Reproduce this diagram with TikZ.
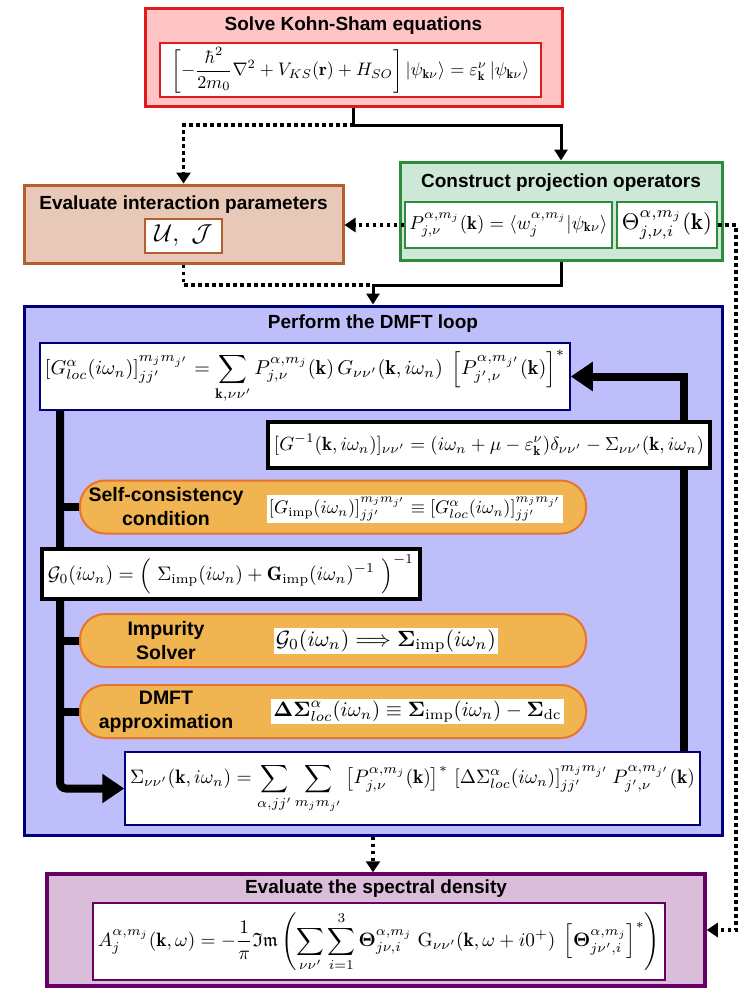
\documentclass[tikz,border=0pt]{standalone}
\usepackage{amsmath,amssymb}
\usepackage{fontspec}
\setsansfont{Liberation Sans}
\usetikzlibrary{arrows.meta,positioning,calc}
\pgfdeclarelayer{back}
\pgfdeclarelayer{lines}
\pgfsetlayers{back,lines,main}

\definecolor{ksred}{HTML}{E31A1C}
\definecolor{ksfill}{HTML}{FFC4C4}
\definecolor{prgreen}{HTML}{2E8B3E}
\definecolor{prfill}{HTML}{CDE8D6}
\definecolor{ipbrown}{HTML}{B4602E}
\definecolor{ipfill}{HTML}{E8C8B6}
\definecolor{lpnavy}{HTML}{00007A}
\definecolor{lpfill}{HTML}{BEBEFA}
\definecolor{plfill}{HTML}{F0B550}
\definecolor{pldraw}{HTML}{E8742C}
\definecolor{spviolet}{HTML}{660066}
\definecolor{spfill}{HTML}{D9BDD9}

\newcommand{\eqw}[2]{\resizebox{#1}{!}{$\displaystyle #2$}}

\begin{document}
\begin{tikzpicture}[x=1pt,y=-1pt,
				box/.style={draw,line width=3pt,inner sep=0pt},
				ttl/.style={font=\fontsize{19}{21}\selectfont\sffamily\bfseries,inner sep=1pt},
				eq/.style={draw,fill=white,line width=1.5pt,inner sep=0pt},
				wbox/.style={fill=white,inner sep=2pt},
				pill/.style={draw=pldraw,fill=plfill,line width=2pt,rounded corners=25pt,minimum width=506pt,minimum height=53pt},
				ptx/.style={font=\fontsize{19.5}{24}\selectfont\sffamily\bfseries,align=center,inner sep=1pt},
				flow/.style={line width=3pt,-{Triangle[length=11pt,width=13pt]}},
				dot/.style={line width=3.5pt,dash pattern=on 3.5pt off 3.5pt,-{Triangle[length=11pt,width=14pt]}},
				fb/.style={line width=8pt,-{Triangle[length=22pt,width=28pt]}},
				br/.style={line width=8pt}
				]
				\useasboundingbox (0,0) rectangle (747,996);
				
				% Kohn-Sham
				\node[box,draw=ksred,fill=ksfill,minimum width=417pt,minimum height=98pt] (ks) at (353.5,57) {};
				\node[ttl] (kst) at (353.5,26) {Solve Kohn-Sham equations};
				\node[eq,draw=ksred,line width=2pt,minimum width=381pt,minimum height=54pt] (kseq) at (350.5,70)
				{\eqw{358pt}{\left[-\frac{\hbar^2}{2m_0}\nabla^2+V_{KS}(\mathbf r)+H_{SO}\right]\left|\psi_{\mathbf k\nu}\right\rangle=\varepsilon_{\mathbf k}^{\nu}\left|\psi_{\mathbf k\nu}\right\rangle}};
				
				% projectors
				\node[box,draw=prgreen,fill=prfill,minimum width=322pt,minimum height=98pt] (proj) at (561,211) {};
				\node[ttl] (projt) at (561,183) {Construct projection operators};
				\node[eq,draw=prgreen,line width=2pt,minimum width=207pt,minimum height=46pt] (peq) at (508.5,225)
				{\eqw{198pt}{P_{j,\nu}^{\alpha,m_j}(\mathbf k)=\langle w_j^{\alpha,m_j}|\psi_{\mathbf k\nu}\rangle}};
				\node[eq,draw=prgreen,line width=2pt,minimum width=100pt,minimum height=46pt] (theq) at (667,225)
				{\eqw{90pt}{\Theta_{j,\nu,i}^{\alpha,m_j}(\mathbf k)}};
				
				% interaction parameters
				\node[box,draw=ipbrown,fill=ipfill,minimum width=319pt,minimum height=78pt] (par) at (183.5,224) {};
				\node[ttl] (part) at (183.5,205) {Evaluate interaction parameters};
				\node[eq,draw=ipbrown,line width=2pt,minimum width=77pt,minimum height=34pt] (ueq) at (183.5,236)
				{\eqw{58pt}{\mathcal U,\ \mathcal J}};
				
				% DMFT loop
				\begin{pgfonlayer}{back}
					\node[box,draw=lpnavy,fill=lpfill,minimum width=698pt,minimum height=529pt] (dmft) at (373,570.5) {};
				\end{pgfonlayer}
				\node[ttl] (dmftt) at (373,324) {Perform the DMFT loop};
				\node[eq,draw=lpnavy,minimum width=530pt,minimum height=67pt] (gloc) at (305,376.5)
				{\eqw{520pt}{[G_{loc}^{\alpha}(i\omega_n)]_{jj'}^{m_jm_{j'}}=\sum_{\mathbf k,\nu\nu'}P_{j,\nu}^{\alpha,m_j}(\mathbf k)\,G_{\nu\nu'}(\mathbf k,i\omega_n)\;\left[P_{j',\nu}^{\alpha,m_{j'}}(\mathbf k)\right]^{*}}};
				\node[eq,line width=4pt,minimum width=442pt,minimum height=46pt] (ginv) at (489,445)
				{\eqw{430pt}{[G^{-1}(\mathbf k,i\omega_n)]_{\nu\nu'}=(i\omega_n+\mu-\varepsilon_{\mathbf k}^{\nu})\delta_{\nu\nu'}-\Sigma_{\nu\nu'}(\mathbf k,i\omega_n)}};
				
				\node[pill] (sc) at (333,507) {};
				\node[ptx] (sct) at (166,507) {Self-consistency\\condition};
				\node[wbox] (sceq) at (415,509)
				{\eqw{292pt}{\left[G_{\mathrm{imp}}(i\omega_n)\right]_{jj'}^{m_jm_{j'}}\equiv\left[G_{loc}^{\alpha}(i\omega_n)\right]_{jj'}^{m_jm_{j'}}}};
				
				\node[eq,line width=4pt,minimum width=378pt,minimum height=50pt] (gzero) at (231,574)
				{\eqw{366pt}{\mathcal G_0(i\omega_n)=\Big(\ \Sigma_{\mathrm{imp}}(i\omega_n)+\mathbf G_{\mathrm{imp}}(i\omega_n)^{-1}\ \Big)^{-1}}};
				
				\node[pill] (imp) at (333,640.5) {};
				\node[ptx] (impt) at (166,640.5) {Impurity\\Solver};
				\node[wbox] (impeq) at (386,641)
				{\eqw{220pt}{\mathcal G_0(i\omega_n)\Longrightarrow\boldsymbol\Sigma_{\mathrm{imp}}(i\omega_n)}};
				
				\node[pill] (dca) at (333,711.5) {};
				\node[ptx] (dcat) at (166,711.5) {DMFT\\approximation};
				\node[wbox] (dcaeq) at (417.5,711.5)
				{\eqw{288pt}{\boldsymbol{\Delta\Sigma}_{loc}^{\alpha}(i\omega_n)\equiv\boldsymbol\Sigma_{\mathrm{imp}}(i\omega_n)-\boldsymbol\Sigma_{\mathrm{dc}}}};
				
				\node[eq,draw=lpnavy,minimum width=575pt,minimum height=73pt] (sig) at (412.5,788.5)
				{\eqw{565pt}{\Sigma_{\nu\nu'}(\mathbf k,i\omega_n)=\sum_{\alpha,jj'}\sum_{m_jm_{j'}}\left[P_{j,\nu}^{\alpha,m_j}(\mathbf k)\right]^{*}\,[\Delta\Sigma_{loc}^{\alpha}(i\omega_n)]_{jj'}^{m_jm_{j'}}\,P_{j',\nu}^{\alpha,m_{j'}}(\mathbf k)}};
				
				% spectral density
				\node[box,draw=spviolet,line width=3.5pt,fill=spfill,minimum width=658pt,minimum height=112pt] (spec) at (376,930) {};
				\node[ttl] (spect) at (376,889) {Evaluate the spectral density};
				\node[eq,draw=spviolet,line width=2pt,minimum width=572pt,minimum height=77pt] (aeq) at (379,941.5)
				{\eqw{562pt}{A_j^{\alpha,m_j}(\mathbf k,\omega)=-\frac{1}{\pi}\mathfrak{Im}\left(\sum_{\nu\nu'}\sum_{i=1}^{3}\boldsymbol\Theta_{j\nu,i}^{\alpha,m_j}\;\mathrm G_{\nu\nu'}(\mathbf k,\omega+i0^+)\;\left[\boldsymbol\Theta_{j\nu',i}^{\alpha,m_j}\right]^{*}\right)}};
				
				\coordinate (ksf) at (353.5,125);
				\coordinate (mg) at (373,285);
				\coordinate (rt) at (736,225);
				\coordinate (lx) at (60,0);
				\coordinate (rx) at (684,0);
				
				\draw[flow] (ks.south) -- (ksf) -| (proj.north);
				\draw[dot] (ksf) -| (par.north);
				\draw[dot] (peq.west) -- (peq.west -| par.east);
				\draw[dot] (theq.east) -- (rt) |- (spec.east);
				\draw[flow] (proj.south) |- (mg) -- (dmft.north);
				\draw[dot,-] (par.south) |- (mg);
				\draw[dot] (dmft.south) -- (dmft.south |- spec.north);
				
				% loop
				\begin{pgfonlayer}{lines}
					\draw[fb,rounded corners=6pt] (gloc.south -| lx) |- (sig.west);
					\foreach \p in {sc,imp,dca} \draw[br] (\p.west -| lx) -- (\p.west);
					\draw[fb] (sig.north -| rx) |- (gloc.east);
				\end{pgfonlayer}
			\end{tikzpicture}
\end{document}
